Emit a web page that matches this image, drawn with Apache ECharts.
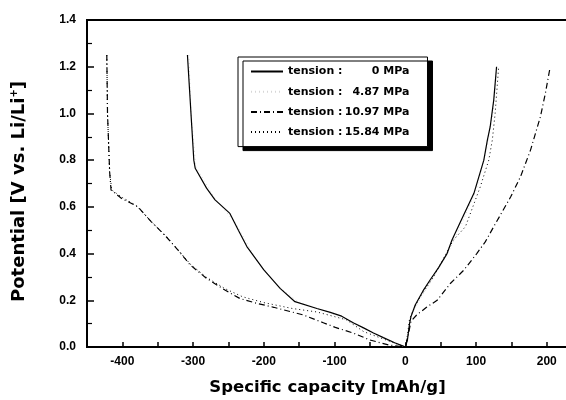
<!DOCTYPE html>
<html>
<head>
<meta charset="utf-8">
<script src="https://cdn.jsdelivr.net/npm/echarts@6/dist/echarts.min.js"></script>
<style>
  html, body { margin: 0; padding: 0; background: #fff; }
  #main { width: 566px; height: 400px; }
</style>
</head>
<body>
<div id="main"></div>
<script>
var pressures = ['0', '4.87', '10.97', '15.84'];

// [capacity mAh/g, potential V]
var curve0 = [
    [-308, 1.25], [-305, 1.1], [-302, 0.95], [-299, 0.8], [-297, 0.765], [-281, 0.68],
    [-269, 0.63], [-248, 0.572], [-236, 0.5], [-224, 0.43], [-200, 0.33], [-177, 0.251],
    [-156, 0.194], [-125, 0.165], [-106, 0.148], [-90, 0.132], [-73, 0.103], [-59, 0.082],
    [-45, 0.06], [-31, 0.04], [-15, 0.018], [-3, 0.004], [0, 0],
    [3, 0.03], [6, 0.1], [8, 0.13], [14, 0.18], [25, 0.24], [35, 0.287], [47, 0.34],
    [59, 0.4], [66, 0.458], [78, 0.536], [97, 0.658], [111, 0.8], [116, 0.886],
    [120, 0.943], [125, 1.057], [129, 1.2]
];
var curve487 = [
    [-306, 1.25], [-303, 1.0], [-296, 0.77], [-270, 0.64], [-240, 0.53], [-210, 0.37],
    [-180, 0.26], [-150, 0.19], [-110, 0.15], [-80, 0.11], [-50, 0.065], [-20, 0.02], [0, 0],
    [4, 0.06], [8, 0.13], [20, 0.2], [40, 0.3], [60, 0.4], [80, 0.53], [100, 0.67],
    [115, 0.85], [124, 1.0], [130, 1.2]
];
var curve1097 = [
    [-422, 1.25], [-421, 1.0], [-418, 0.75], [-416, 0.672], [-401, 0.636], [-378, 0.6],
    [-359, 0.536], [-338, 0.472], [-320, 0.41], [-304, 0.351], [-281, 0.294], [-255, 0.244],
    [-234, 0.208], [-210, 0.187], [-186, 0.17], [-144, 0.137], [-116, 0.104], [-99, 0.084],
    [-73, 0.059], [-50, 0.03], [-24, 0.009], [0, 0],
    [4, 0.05], [8, 0.11], [16, 0.137], [30, 0.17], [45, 0.2], [64, 0.273], [83, 0.33],
    [101, 0.4], [113, 0.45], [125, 0.515], [149, 0.643], [163, 0.73], [177, 0.843],
    [191, 0.986], [198, 1.086], [204, 1.186]
];
var curve1584 = [
    [-422, 1.25], [-421, 1.0], [-418, 0.75], [-415, 0.672], [-400, 0.64], [-380, 0.605],
    [-360, 0.54], [-338, 0.474], [-304, 0.355], [-281, 0.298], [-255, 0.25], [-230, 0.215],
    [-200, 0.19], [-160, 0.165], [-125, 0.15], [-100, 0.13], [-83, 0.116], [-59, 0.066],
    [-21, 0.023], [0, 0],
    [3, 0.05], [6, 0.12], [10, 0.15], [20, 0.21], [40, 0.3], [68, 0.458], [85, 0.515],
    [106, 0.686], [118, 0.8], [123, 0.886], [127, 1.0], [132, 1.2]
];

var xTicks = [-400, -300, -200, -100, 0, 100, 200];

var chartDom = document.getElementById('main');
var myChart = echarts.init(chartDom);
var option;

function seriesName(p) {
    return 'tension : ' + p + ' MPa';
}

var lineStyles = [
    { color: '#000', width: 1.2, type: 'solid' },
    { color: '#d6d6d6', width: 1, type: [1, 3] },
    { color: '#000', width: 1.2, type: [6, 3, 1, 3] },
    { color: '#000', width: 1, type: [1, 3] }
];
var curves = [curve0, curve487, curve1097, curve1584];

option = {
    animation: false,
    backgroundColor: '#fff',
    grid: {
        left: 87,
        top: 20,
        width: 481,
        height: 327,
        outerBoundsMode: 'none',
        show: true,
        borderColor: '#000',
        borderWidth: 2
    },
    legend: {
        orient: 'vertical',
        left: 238,
        top: 57,
        padding: [9, 18, 9, 12],
        itemWidth: 32,
        itemHeight: 12,
        itemGap: 9.2,
        backgroundColor: '#fff',
        borderColor: '#000',
        borderWidth: 1,
        shadowColor: '#000',
        shadowBlur: 0,
        shadowOffsetX: 5,
        shadowOffsetY: 4,
        itemStyle: { opacity: 0 },
        formatter: function (name) {
            var v = name.replace('tension : ', '');
            return '{t|tension :}{v|' + v + '}';
        },
        textStyle: {
            fontFamily: 'DejaVu Sans',
            fontWeight: 'bold',
            fontSize: 11,
            color: '#000',
            rich: {
                t: { fontFamily: 'DejaVu Sans', fontWeight: 'bold', fontSize: 11, color: '#000' },
                v: { fontFamily: 'DejaVu Sans', fontWeight: 'bold', fontSize: 11, color: '#000', width: 67, align: 'right' }
            }
        },
        data: pressures.map(seriesName)
    },
    xAxis: {
        type: 'value',
        min: -450,
        max: 230,
        interval: 50,
        name: 'Specific capacity [mAh/g]',
        nameLocation: 'middle',
        nameGap: 32,
        nameTextStyle: {
            fontFamily: 'DejaVu Sans',
            fontWeight: 'bold',
            fontSize: 16.5,
            color: '#000'
        },
        axisLine: { onZero: false, lineStyle: { color: '#000', width: 2 } },
        axisTick: { inside: true, length: 5, lineStyle: { color: '#000', width: 1.5 } },
        axisLabel: {
            margin: 9,
            fontFamily: 'Liberation Sans',
            fontWeight: 'bold',
            fontSize: 12,
            color: '#000',
            formatter: function (v) {
                return xTicks.indexOf(v) >= 0 ? String(v) : '';
            }
        },
        splitLine: { show: false }
    },
    yAxis: {
        type: 'value',
        min: 0,
        max: 1.4,
        interval: 0.2,
        name: 'Potential [V vs. Li/Li{sup|+}]',
        nameLocation: 'middle',
        nameRotate: 90,
        nameGap: 58,
        nameTextStyle: {
            fontFamily: 'DejaVu Sans',
            fontWeight: 'bold',
            fontSize: 18,
            color: '#000',
            padding: [0, 16, 0, 0],
            rich: {
                sup: { fontFamily: 'DejaVu Sans', fontWeight: 'bold', fontSize: 10, color: '#000', verticalAlign: 'top', padding: [0, 0, 10, 0] }
            }
        },
        axisLine: { onZero: false, lineStyle: { color: '#000', width: 2 } },
        axisTick: { inside: true, length: 7, lineStyle: { color: '#000', width: 1.5 } },
        minorTick: { show: true, splitNumber: 2, length: 5, lineStyle: { color: '#000', width: 1.2 } },
        axisLabel: {
            margin: 11,
            fontFamily: 'Liberation Sans',
            fontWeight: 'bold',
            fontSize: 12,
            color: '#000',
            formatter: function (v) { return v.toFixed(1); }
        },
        splitLine: { show: false }
    },
    series: pressures.map(function (p, i) {
        return {
            name: seriesName(p),
            type: 'line',
            symbol: 'none',
            data: curves[i],
            color: lineStyles[i].color,
            lineStyle: lineStyles[i],
            z: i === 1 ? 1 : 2
        };
    })
};

option && myChart.setOption(option);
</script>
</body>
</html>
